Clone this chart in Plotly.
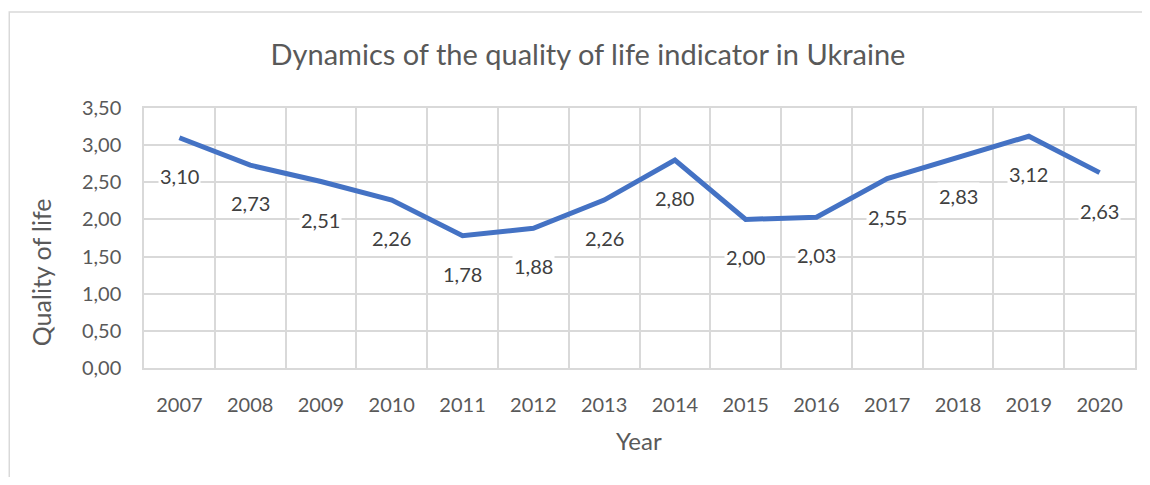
import plotly.graph_objects as go

years = ["2007", "2008", "2009", "2010", "2011", "2012", "2013", "2014",
         "2015", "2016", "2017", "2018", "2019", "2020"]
quality = [3.10, 2.73, 2.51, 2.26, 1.78, 1.88, 2.26, 2.80, 2.00, 2.03, 2.55, 2.83, 3.12, 2.63]
y_ticks = [0, 0.5, 1.0, 1.5, 2.0, 2.5, 3.0, 3.5]

FONT = "Lato"
GREY = "#595959"
GRID = "#d9d9d9"

# page has an 8px body margin; figure sized to fit the 1150x485 window
OFF = 8
W, H = 1150 - 2 * OFF, 485 - 2 * OFF
L, T = 144 - OFF, 108 - OFF
R = OFF + W - 1137
B = OFF + H - 368
pw, ph = W - L - R, H - T - B


def px_x(x):  # page pixel -> paper x
    return (x - OFF - L) / pw


def px_y(y):  # page pixel -> paper y
    return 1 - (y - OFF - T) / ph


fig = go.Figure()
fig.add_trace(go.Scatter(
    x=years, y=quality, mode="lines",
    line=dict(color="#4472C4", width=5),
    hoverinfo="skip", showlegend=False,
))

for i, v in enumerate(quality):
    fig.add_annotation(
        x=i, y=v, xref="x", yref="y",
        text=f"{v:.2f}".replace(".", ","), showarrow=False,
        yshift=-38, bgcolor="white", borderpad=1,
        font=dict(family=FONT, size=20, color="#404040"),
    )

# outer chart border
fig.add_shape(type="rect", xref="paper", yref="paper",
              x0=px_x(9), x1=px_x(1180), y0=px_y(520), y1=px_y(12),
              line=dict(color=GRID, width=1.5), fillcolor="rgba(0,0,0,0)", layer="below")

fig.add_annotation(xref="paper", yref="paper", x=px_x(41), y=px_y(272),
                   xanchor="center", yanchor="middle",
                   text="Quality of life", textangle=-90, showarrow=False,
                   font=dict(family=FONT, size=25, color=GREY))
fig.add_annotation(xref="paper", yref="paper", x=px_x(640), y=px_y(440),
                   xanchor="center", yanchor="middle",
                   text="Year", showarrow=False,
                   font=dict(family=FONT, size=24, color=GREY))

fig.update_layout(
    width=W, height=H,
    margin=dict(l=L, r=R, t=T, b=B),
    paper_bgcolor="white", plot_bgcolor="white",
    separators=", ",
    title=dict(text="Dynamics of the quality of life indicator in Ukraine",
               x=(588 - OFF) / W, xanchor="center", y=1 - (55 - OFF) / H,
               yanchor="middle", yref="container",
               font=dict(family=FONT, size=29, color=GREY)),
    xaxis=dict(type="category", tickson="boundaries", showgrid=True,
               gridcolor=GRID, gridwidth=1.5, showline=True, linecolor=GRID,
               linewidth=1.5, mirror=True, ticks="", ticklabelstandoff=18,
               tickfont=dict(family=FONT, size=20, color=GREY),
               range=[-0.5, 13.5], fixedrange=True),
    yaxis=dict(range=[0, 3.5], tickvals=y_ticks, tickformat=".2f",
               showgrid=True, gridcolor=GRID, gridwidth=1.5, zeroline=False,
               showline=True, linecolor=GRID, linewidth=1.5, mirror=True,
               ticks="", ticklabelstandoff=17,
               tickfont=dict(family=FONT, size=20, color=GREY), fixedrange=True),
)

fig.write_html("out.html")
